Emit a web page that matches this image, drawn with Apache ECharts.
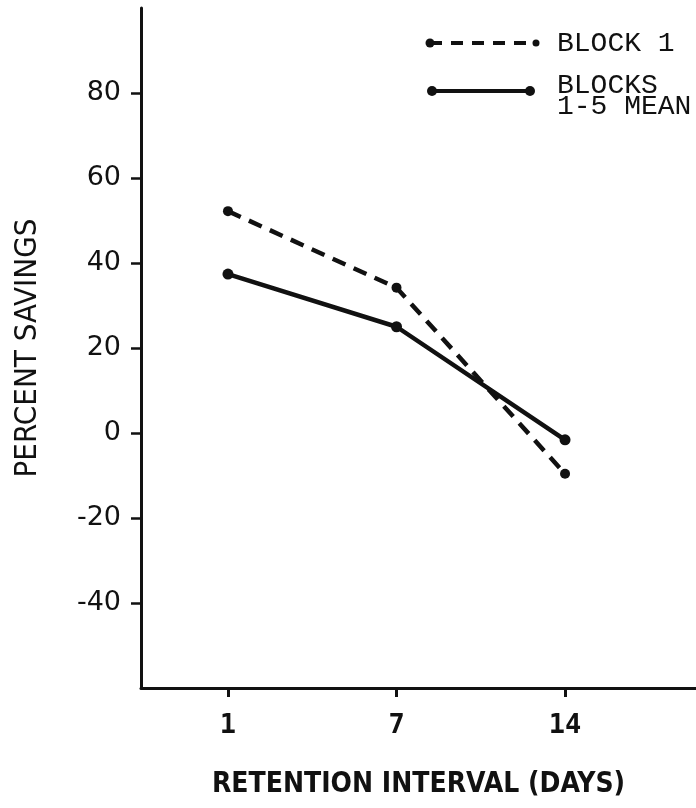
<!DOCTYPE html>
<html>
<head>
<meta charset="utf-8">
<script src="https://cdn.jsdelivr.net/npm/echarts@6/dist/echarts.min.js"></script>
<style>html,body{margin:0;padding:0;background:#fff}#c{width:696px;height:808px}</style>
</head>
<body>
<div id="c"></div>
<script>
// Data
const days = ['1', '7', '14'];
const block1 = [52.2, 34.2, -9.6];
const blocksMean = [37.4, 25.0, -1.6];
const yTicks = [-40, -20, 0, 20, 40, 60, 80];
const seriesNames = ['BLOCK 1', 'BLOCKS\n1-5 MEAN'];

const xIdx = days.map((d, i) => i);
const toPts = arr => arr.map((v, i) => [i, v]);

const chart = echarts.init(document.getElementById('c'), null, {renderer: 'canvas'});
const black = '#111';
const condensed = "'DejaVu Sans Condensed', 'Liberation Sans', sans-serif";
chart.setOption({
  backgroundColor: '#fff',
  animation: false,
  grid: {left: 141, right: 0, top: 8, bottom: 120, containLabel: false},
  xAxis: {
    type: 'value',
    min: -0.516, max: 2.777,
    splitLine: {show: false},
    axisLine: {show: true, onZero: false, lineStyle: {color: black, width: 3}},
    axisTick: {show: true, customValues: xIdx, length: 9, lineStyle: {color: black, width: 3}},
    axisLabel: {
      customValues: xIdx, margin: 24,
      formatter: v => days[Math.round(v)],
      fontFamily: 'DejaVu Sans Mono', fontWeight: 'bold', fontSize: 27, color: black
    },
    name: 'RETENTION INTERVAL (DAYS)',
    nameLocation: 'middle', nameGap: 83,
    nameTextStyle: {fontFamily: condensed, fontWeight: 'bold', fontSize: 28, color: black, verticalAlign: 'top'}
  },
  yAxis: {
    type: 'value',
    min: -60, max: 100, interval: 20,
    splitLine: {show: false},
    axisLine: {show: true, onZero: false, lineStyle: {color: black, width: 3}},
    axisTick: {show: true, customValues: yTicks, length: 10, lineStyle: {color: black, width: 2.5}},
    axisLabel: {
      customValues: yTicks, margin: 20,
      fontFamily: 'DejaVu Sans', fontSize: 27, color: black
    },
    name: 'PERCENT SAVINGS',
    nameLocation: 'middle', nameGap: 98,
    nameTextStyle: {fontFamily: condensed, fontWeight: 'normal', fontSize: 31, color: black}
  },
  series: [
    {
      name: seriesNames[0], type: 'line', data: toPts(block1),
      symbol: 'circle', symbolSize: 10,
      itemStyle: {color: black},
      lineStyle: {color: black, width: 4.5, type: [14, 9]}
    },
    {
      name: seriesNames[1], type: 'line', data: toPts(blocksMean),
      symbol: 'circle', symbolSize: 11,
      itemStyle: {color: black},
      lineStyle: {color: black, width: 4.5}
    }
  ],
  graphic: [
    {type: 'line', shape: {x1: 430, y1: 43, x2: 536, y2: 43}, style: {stroke: black, lineWidth: 4, lineDash: [12, 9]}},
    {type: 'circle', shape: {cx: 430, cy: 43, r: 4.5}, style: {fill: black}},
    {type: 'circle', shape: {cx: 536, cy: 43, r: 3.5}, style: {fill: black}},
    {type: 'line', shape: {x1: 432, y1: 91, x2: 530, y2: 91}, style: {stroke: black, lineWidth: 4}},
    {type: 'circle', shape: {cx: 432, cy: 91, r: 5}, style: {fill: black}},
    {type: 'circle', shape: {cx: 530, cy: 91, r: 5}, style: {fill: black}},
    {type: 'text', left: 557, top: 30, style: {text: seriesNames[0], font: '28px "Liberation Mono"', fill: black}},
    {type: 'text', left: 557, top: 72, style: {text: seriesNames[1], font: '28px "Liberation Mono"', fill: black, lineHeight: 21}}
  ]
});
</script>
</body>
</html>
